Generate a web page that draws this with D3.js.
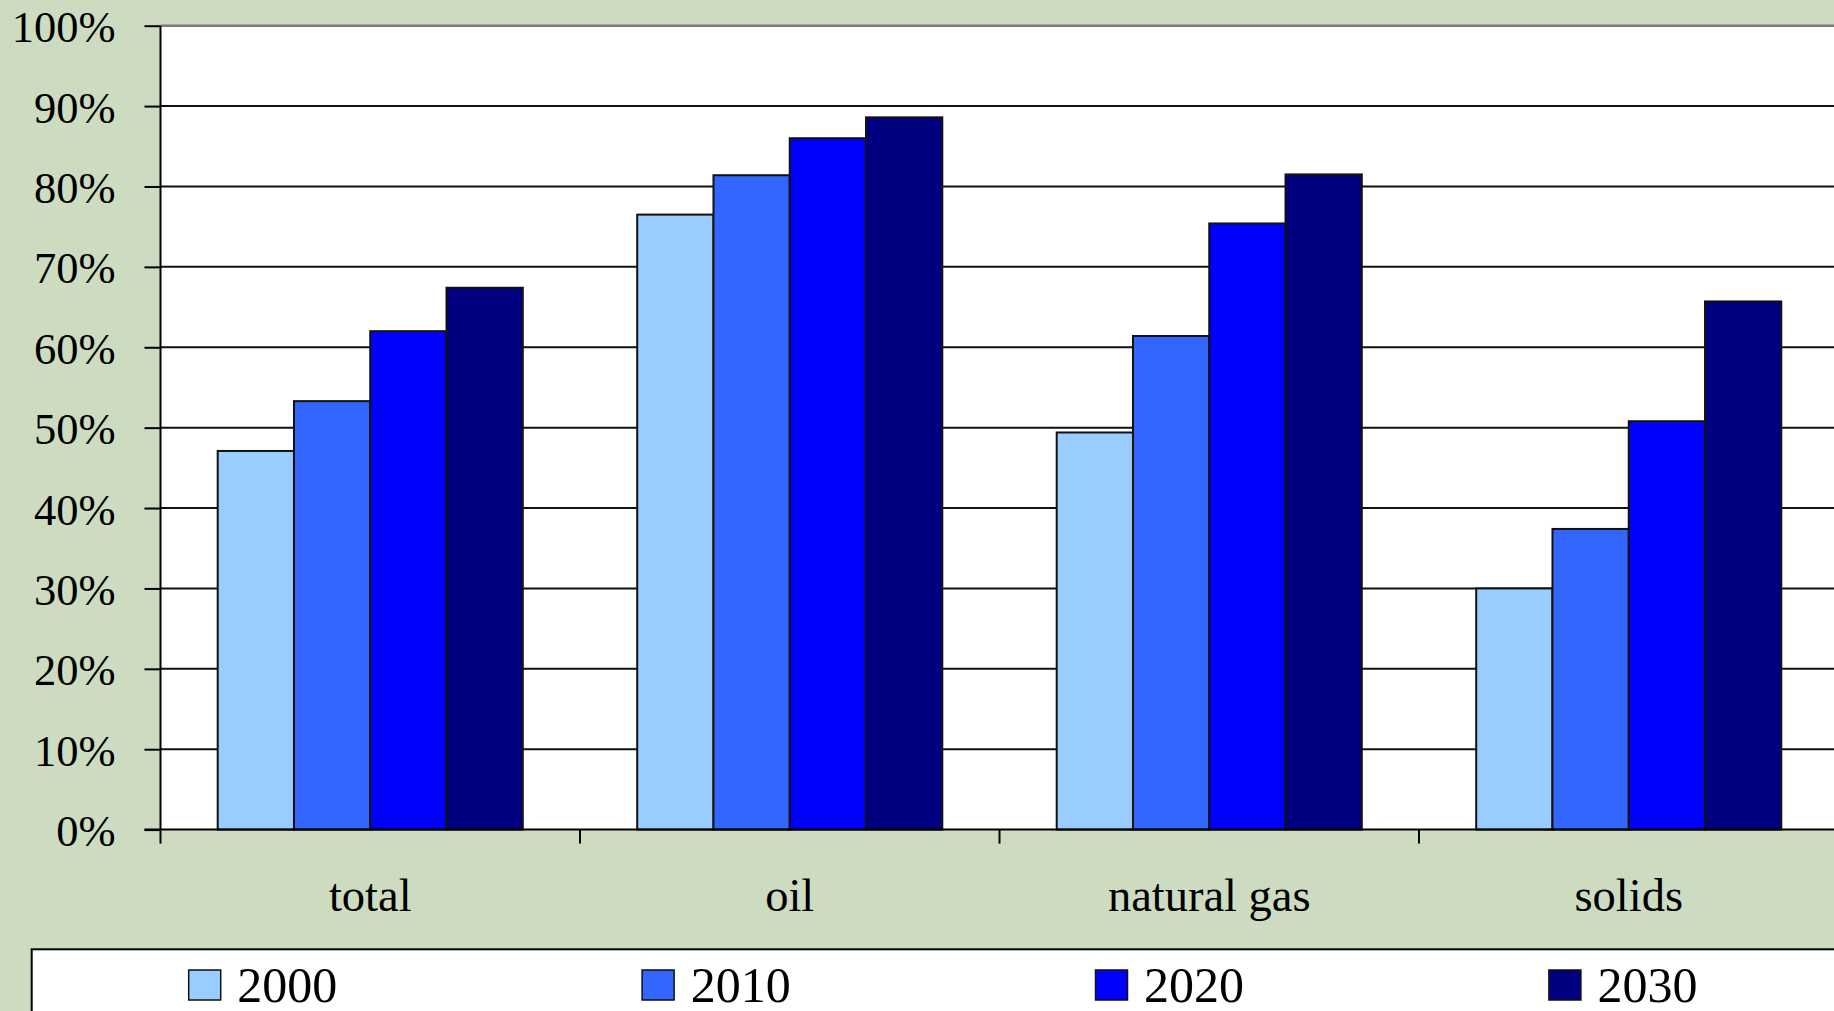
<!DOCTYPE html>
<html>
<head>
<meta charset="utf-8">
<script src="https://cdn.jsdelivr.net/npm/d3@7"></script>
<style>
  html, body { margin: 0; padding: 0; background: #cddbc0; overflow: hidden; }
  svg { display: block; }
  text { font-family: "Liberation Serif", "Times New Roman", serif; fill: #000; }
</style>
</head>
<body>
<svg id="chart" width="1834" height="1011"></svg>
<script>
// ---- data ----
const categories = ["total", "oil", "natural gas", "solids"];
const seriesNames = ["2000", "2010", "2020", "2030"];
const values2000 = [47.1, 76.5, 49.4, 30.0];
const values2010 = [53.3, 81.4, 61.4, 37.4];
const values2020 = [62.0, 86.0, 75.4, 50.8];
const values2030 = [67.4, 88.6, 81.5, 65.7];
const seriesColors = ["#99ccff", "#3366ff", "#0000ff", "#000080"];
const yTicks = [0, 10, 20, 30, 40, 50, 60, 70, 80, 90, 100];
const yTickLabels = ["0%", "10%", "20%", "30%", "40%", "50%", "60%", "70%", "80%", "90%", "100%"];

const seriesValues = [values2000, values2010, values2020, values2030];

// ---- layout ----
const W = 1834, H = 1011;
const plot = { left: 160.5, top: 25.7, bottom: 829.6, catWidth: 419.5 };
plot.right = plot.left + categories.length * plot.catWidth;

const svg = d3.select("#chart");

svg.append("rect").attr("x", 0).attr("y", 0).attr("width", W).attr("height", H).attr("fill", "#cddbc0");

const x0 = d3.scaleBand().domain(categories).range([plot.left, plot.right]).paddingInner(0).paddingOuter(0);
const x1 = d3.scaleBand().domain(seriesNames).range([0, x0.bandwidth()]).paddingInner(0).paddingOuter(0.75);
const y = d3.scaleLinear().domain([0, 100]).range([plot.bottom, plot.top]);

// plot area
svg.append("rect")
  .attr("x", plot.left).attr("y", plot.top)
  .attr("width", plot.right - plot.left).attr("height", plot.bottom - plot.top)
  .attr("fill", "#ffffff");

// gridlines
svg.append("g").selectAll("line")
  .data(yTicks.filter(t => t > 0 && t < 100))
  .join("line")
  .attr("x1", plot.left).attr("x2", plot.right)
  .attr("y1", d => y(d)).attr("y2", d => y(d))
  .attr("stroke", "#111").attr("stroke-width", 2);

// top border (100%)
svg.append("line")
  .attr("x1", plot.left).attr("x2", plot.right)
  .attr("y1", y(100)).attr("y2", y(100))
  .attr("stroke", "#7a7a7a").attr("stroke-width", 2.5);

// bars
const groups = svg.append("g").selectAll("g")
  .data(categories)
  .join("g")
  .attr("transform", d => `translate(${x0(d)},0)`);

groups.selectAll("rect")
  .data((c, ci) => seriesNames.map((s, si) => ({ s, si, v: seriesValues[si][ci] })))
  .join("rect")
  .attr("x", d => x1(d.s))
  .attr("width", x1.bandwidth())
  .attr("y", d => y(d.v))
  .attr("height", d => y(0) - y(d.v))
  .attr("fill", d => seriesColors[d.si])
  .attr("stroke", "#111")
  .attr("stroke-width", 2);

// y axis
const yAxis = d3.axisLeft(y)
  .tickValues(yTicks)
  .tickFormat((d, i) => yTickLabels[i])
  .tickSize(16)
  .tickPadding(29);
const gy = svg.append("g").attr("transform", `translate(${plot.left},0)`).call(yAxis);
gy.select(".domain").attr("stroke", "#000").attr("stroke-width", 2).attr("d", `M0,${plot.top}V${plot.bottom}`);
gy.selectAll(".tick line").attr("stroke", "#000").attr("stroke-width", 2);
gy.selectAll(".tick text")
  .attr("font-family", "Liberation Serif, Times New Roman, serif")
  .attr("font-size", 44.5)
  .attr("fill", "#000")
  .attr("dy", "0.36em");

// x axis
const xAxis = d3.axisBottom(x0).tickSize(0).tickPadding(0).tickFormat(() => "");
const gx = svg.append("g").attr("transform", `translate(0,${plot.bottom})`).call(xAxis);
gx.select(".domain").attr("stroke", "#000").attr("stroke-width", 2).attr("d", `M${plot.left - 16},0H${plot.right}`);
gx.selectAll(".tick").remove();

// category boundary ticks
const boundaries = categories.map(c => x0(c));
svg.append("g").selectAll("line")
  .data(boundaries)
  .join("line")
  .attr("x1", d => d).attr("x2", d => d)
  .attr("y1", plot.bottom).attr("y2", plot.bottom + 14)
  .attr("stroke", "#000").attr("stroke-width", 2);

// category labels
svg.append("g").selectAll("text")
  .data(categories)
  .join("text")
  .attr("x", d => x0(d) + x0.bandwidth() / 2)
  .attr("y", 910.5)
  .attr("text-anchor", "middle")
  .attr("font-size", 46.5)
  .text(d => d);

// legend
const legend = svg.append("g");
legend.append("rect")
  .attr("x", 31.7).attr("y", 949.3)
  .attr("width", W + 20 - 31.7).attr("height", 100)
  .attr("fill", "#ffffff").attr("stroke", "#000").attr("stroke-width", 2);

const legendX = d3.scalePoint().domain(seriesNames).range([188.7, 188.7 + 3 * 453.4]);
const items = legend.selectAll("g.item")
  .data(seriesNames)
  .join("g")
  .attr("class", "item")
  .attr("transform", d => `translate(${legendX(d)},970)`);
items.append("rect")
  .attr("width", 32).attr("height", 30)
  .attr("fill", (d, i) => seriesColors[i])
  .attr("stroke", "#111").attr("stroke-width", 1.5);
items.append("text")
  .attr("x", 48.6).attr("y", 31.5)
  .attr("font-size", 50)
  .text(d => d);
</script>
</body>
</html>
